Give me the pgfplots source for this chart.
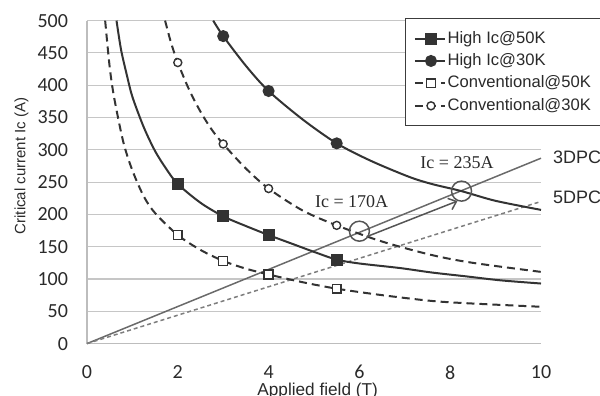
\documentclass[border=0pt]{standalone}
\usepackage{fontspec}
\setmainfont{Liberation Sans}
\newfontfamily\calibri{Carlito}
\newfontfamily\serifjp{Liberation Serif}
\usepackage{pgfplots}
\pgfplotsset{compat=1.18}
\usetikzlibrary{arrows.meta}
\definecolor{curve}{HTML}{333333}
\definecolor{dpcthree}{HTML}{6A6A6A}
\definecolor{dpcfive}{HTML}{7E7E7E}
\definecolor{annot}{HTML}{555555}
\definecolor{gridgray}{HTML}{C6C6C6}
\definecolor{axisgray}{HTML}{BDBDBD}
\definecolor{legendgray}{HTML}{3C3C3C}
\definecolor{txt}{HTML}{2A2A2A}
\begin{document}
\begin{tikzpicture}
\begin{axis}[
  scale only axis, width=227pt, height=161.5pt,
  xmin=0, xmax=10, ymin=0, ymax=500,
  xtick={0,2,...,10}, ytick={0,50,...,500},
  axis lines*=left,
  axis line style={draw=axisgray, line width=0.6pt},
  major tick length=0pt,
  ymajorgrids, grid style={draw=gridgray, line width=0.6pt},
  clip=false,
  /pgf/number format/assume math mode=true,
  tick label style={font=\calibri\fontsize{10}{12}\selectfont, text=txt},
  xticklabel shift=7.4pt, yticklabel shift=6pt,
  xlabel={Applied field (T)}, ylabel={Critical current Ic (A)},
  xlabel style={at={(axis description cs:0.508,-0.1600)}, anchor=base, font=\fontsize{8.6}{10}\selectfont, text=txt},
  ylabel style={at={(axis description cs:-0.1443,0.55)}, anchor=center, font=\fontsize{7.5}{9}\selectfont, text=txt},
  legend style={at={(0.7004,1.008)}, anchor=north west, draw=legendgray, line width=0.6pt, fill=white,
    font=\fontsize{8.3}{9.5}\selectfont, text=txt, inner xsep=4.2pt, inner ysep=5.4pt, row sep=2.1pt,
    nodes={inner sep=0.8pt}, cells={anchor=west}},
  legend cell align=left,
  legend image code/.code={%
    \draw[mark=none] (0pt,0pt) -- (15pt,0pt);
    \draw[mark indices={1}] plot coordinates {(8pt,0pt)};},
]
% DPC load lines
\addplot[dpcthree, line width=0.75pt, forget plot] coordinates {(0,0) (10,287)};
\addplot[dpcfive, line width=0.75pt, dash pattern=on 2pt off 1.5pt, forget plot] coordinates {(0,0) (10,220)};

% High Ic @ 50K
\addplot[curve, line width=1pt, smooth, mark=square*, mark size=2.5pt, mark indices={8,10,12,15},
  mark options={fill=curve, solid}] coordinates {
 (0.65,500) (0.75,455) (0.88,415) (1.0,382) (1.25,335) (1.5,298) (1.75,270) (2,247) (2.5,218) (3,197)
 (3.5,182) (4,168) (4.5,155) (5,142) (5.5,130) (6,124) (6.89,117) (7.6,110) (8.36,104) (9.1,98) (10,93)};
\addlegendentry{High Ic@50K}

% High Ic @ 30K
\addplot[curve, line width=1pt, smooth, mark=*, mark size=2.5pt, mark indices={2,4,6},
  mark options={fill=curve, solid}] coordinates {
 (2.78,500) (3,476) (3.5,430) (4,391) (4.75,347) (5.5,310) (6.25,283) (7.1,258) (7.6,247) (8.25,236) (9,221) (10,207)};
\addlegendentry{High Ic@30K}

% Conventional @ 50K
\addplot[curve, line width=1pt, smooth, dash pattern=on 4pt off 2.5pt, mark=square*, mark size=2.2pt,
  mark indices={8,10,12,14}, mark options={solid, fill=white, line width=0.7pt}] coordinates {
 (0.40,500) (0.5,428) (0.6,380) (0.8,312) (1.0,268) (1.25,228) (1.5,202) (2,168) (2.5,145) (3,128)
 (3.5,116) (4,107) (4.75,95) (5.5,85) (6.5,75) (7.6,66) (8.5,62) (10,57)};
\addlegendentry{Conventional@50K}

% Conventional @ 30K
\addplot[curve, line width=1pt, smooth, dash pattern=on 4pt off 2.5pt, mark=*, mark size=2pt,
  mark indices={3,7,9,11}, mark options={solid, fill=white, line width=0.7pt}] coordinates {
 (1.72,500) (1.85,466) (2,435) (2.25,393) (2.5,359) (2.75,331) (3,309) (3.5,271) (4,240) (4.75,206)
 (5.5,183) (6.5,158) (7.6,137) (8.5,125) (10,111)};
\addlegendentry{Conventional@30K}

% annotation circles and arrow
\addplot[annot, only marks, mark=o, mark size=5pt, mark options={line width=0.75pt}, forget plot]
  coordinates {(6.0,174) (8.25,236)};
\addplot[annot, line width=0.75pt, -{Straight Barb[length=3.5pt,width=6pt]}, forget plot]
  coordinates {(6.16,165.5) (8.16,220.7)};

\node[font=\serifjp\fontsize{9}{10}\selectfont, text=txt] at (axis cs:8.15,280) {Ic = 235A};
\node[font=\serifjp\fontsize{9}{10}\selectfont, text=txt] at (axis cs:5.83,220) {Ic = 170A};
\node[font=\fontsize{9}{10}\selectfont, text=txt, anchor=west, inner sep=0pt] at (axis cs:10.26,289) {3DPC};
\node[font=\fontsize{9}{10}\selectfont, text=txt, anchor=west, inner sep=0pt] at (axis cs:10.26,227) {5DPC};
\end{axis}
\pgfresetboundingbox
\path[use as bounding box] (-43.5pt,-26.2pt) rectangle (256.5pt,171.8pt);
\end{tikzpicture}
\end{document}
